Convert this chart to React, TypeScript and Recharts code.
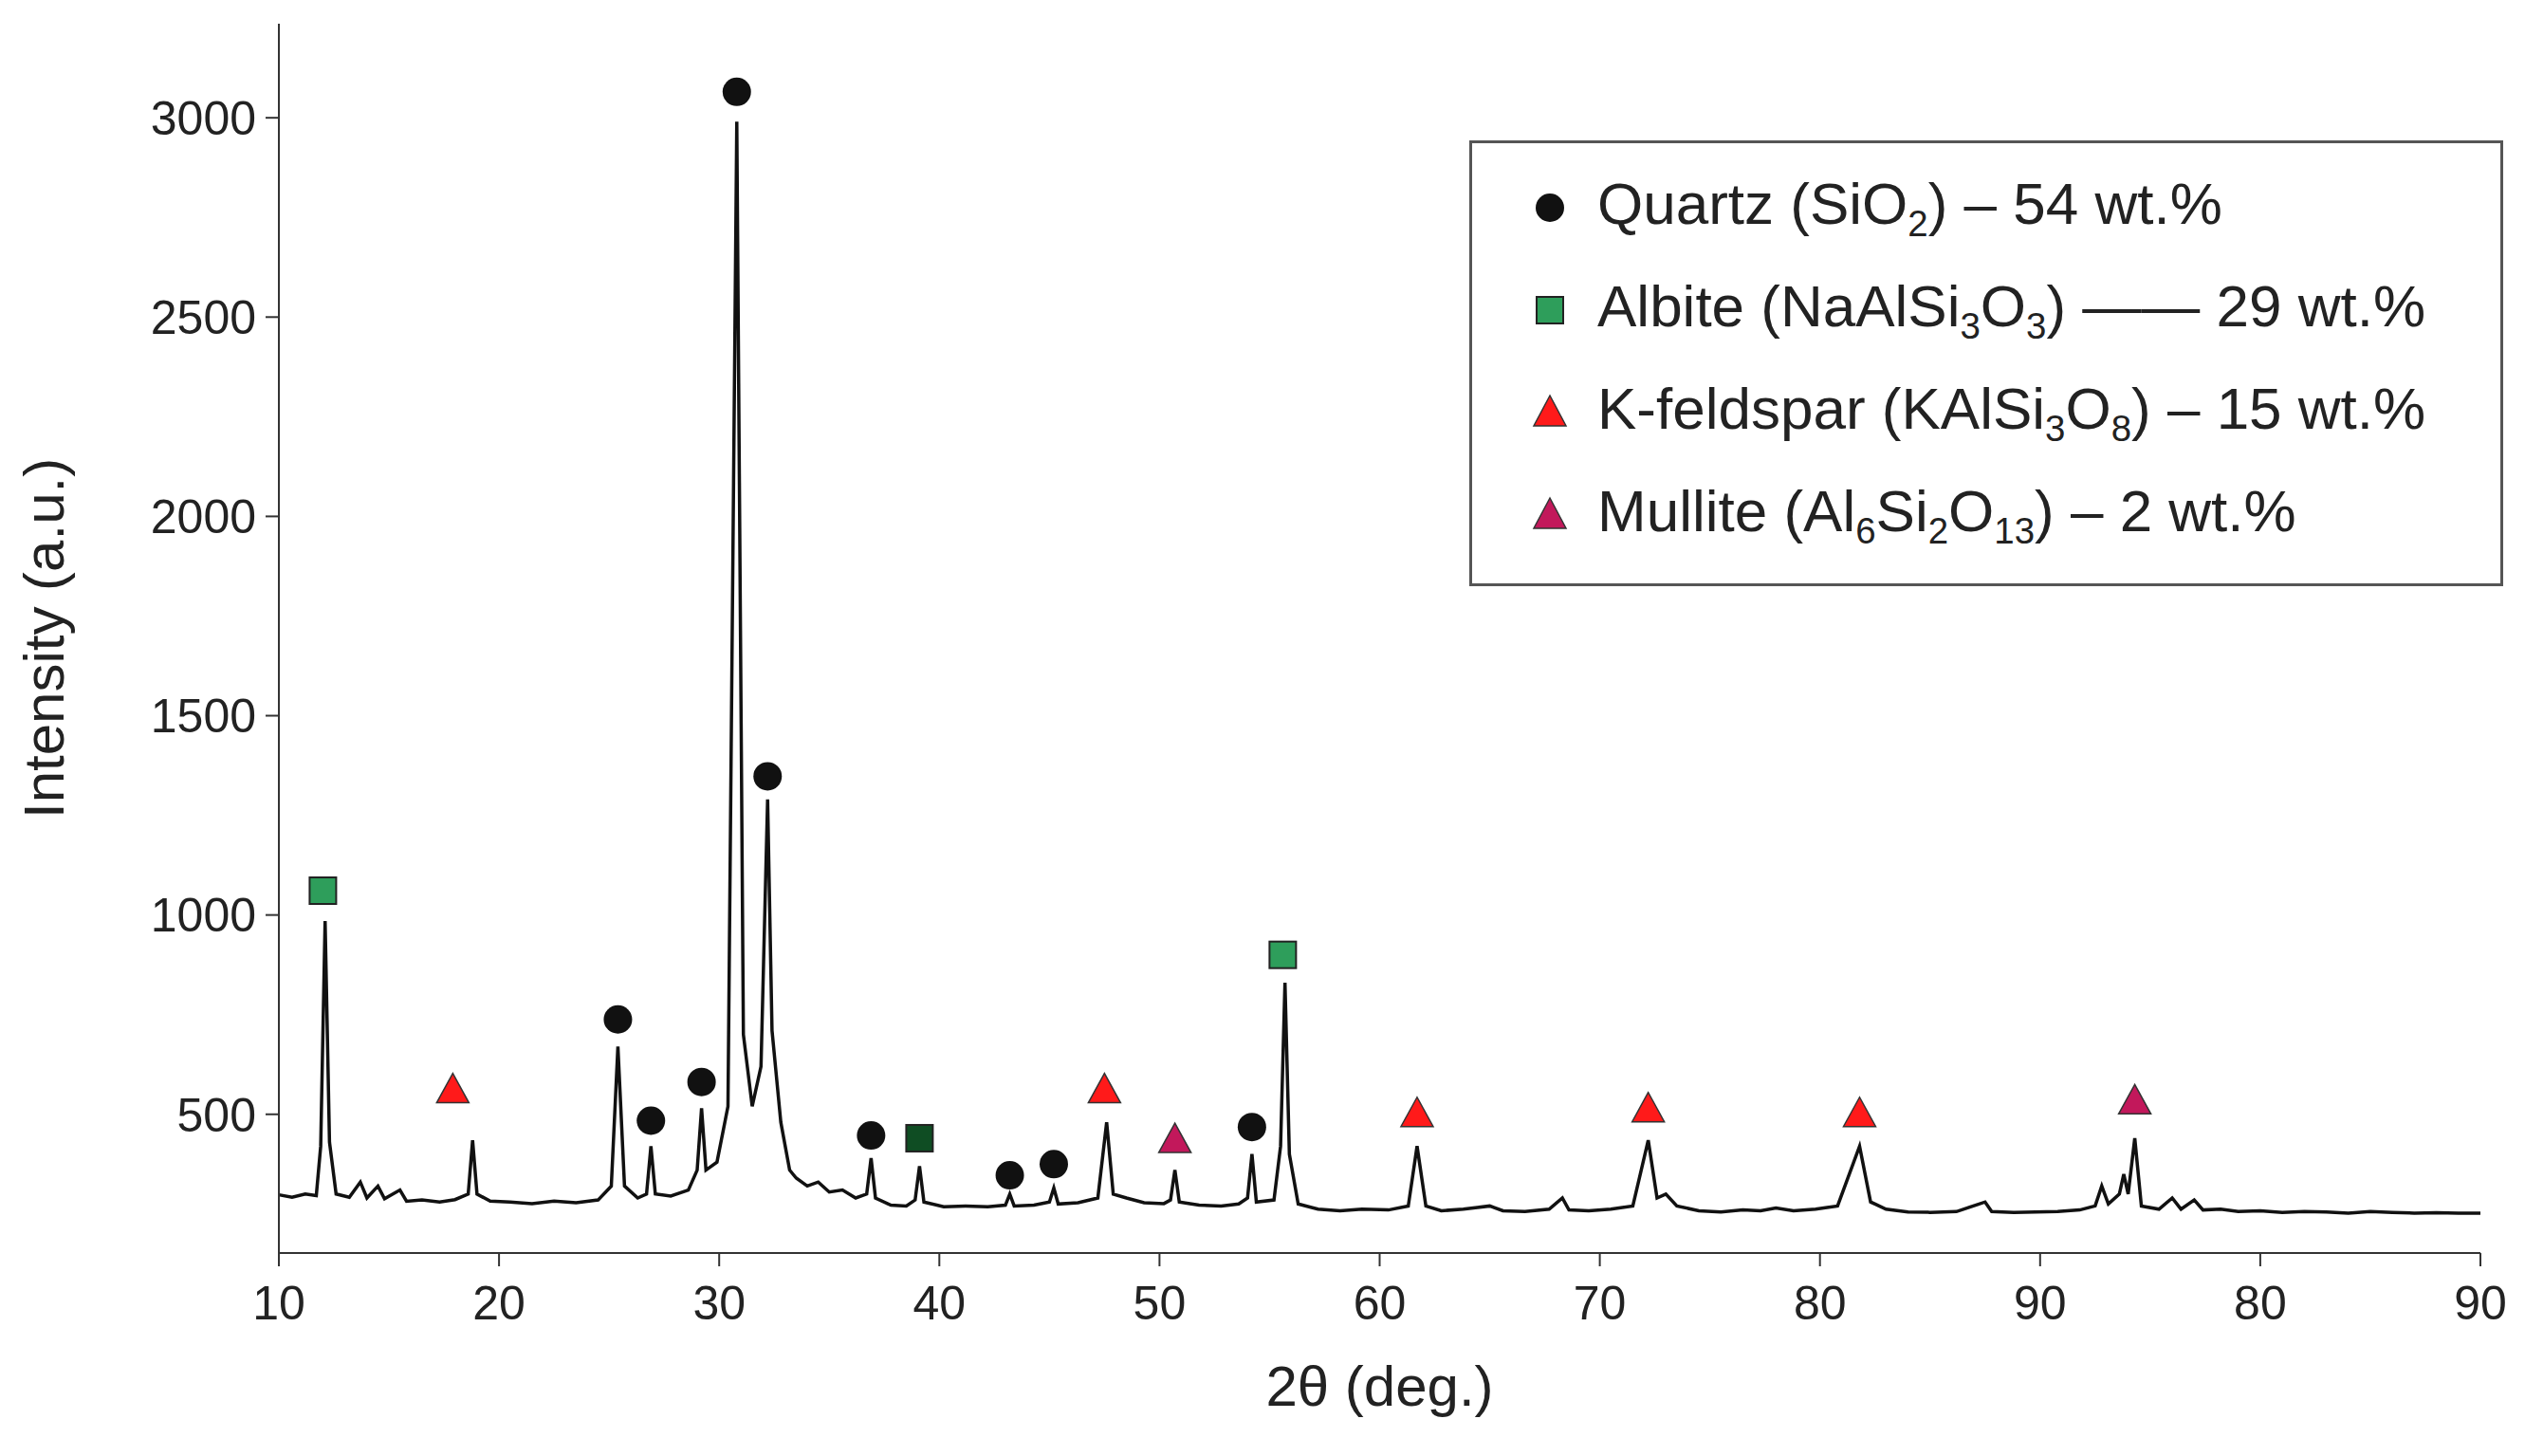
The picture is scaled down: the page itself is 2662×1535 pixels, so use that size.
import React from "react";
import { ComposedChart, Line, Scatter, XAxis, YAxis } from "recharts";

// XRD trace [2θ position, intensity]
const trace: [number, number][] = [
  [10, 298], [10.6, 292], [11.2, 300], [11.7, 296], [11.9, 420], [12.1, 985], [12.3, 430], [12.6, 300],
  [13.2, 292], [13.7, 330], [14.0, 290], [14.5, 320], [14.8, 288], [15.5, 310], [15.8, 282], [16.5, 285],
  [17.3, 280], [18.0, 286], [18.6, 300], [18.8, 435], [19.0, 300], [19.6, 282], [20.5, 280], [21.5, 276],
  [22.5, 282], [23.5, 278], [24.5, 285], [25.1, 320], [25.4, 670], [25.7, 320], [26.3, 290], [26.7, 300],
  [26.9, 420], [27.1, 300], [27.8, 295], [28.6, 310], [29.0, 360], [29.2, 515], [29.4, 360], [29.9, 380],
  [30.4, 520], [30.8, 2990], [31.1, 700], [31.5, 520], [31.9, 620], [32.2, 1290], [32.4, 710], [32.8, 480],
  [33.2, 360], [33.5, 340], [34.0, 320], [34.5, 330], [35.0, 305], [35.6, 310], [36.2, 290], [36.7, 300],
  [36.9, 390], [37.1, 290], [37.8, 272], [38.5, 270], [38.9, 285], [39.1, 370], [39.3, 280], [40.2, 268],
  [41.2, 270], [42.2, 268], [43.0, 272], [43.2, 300], [43.4, 270], [44.3, 272], [45.0, 280], [45.2, 315],
  [45.4, 275], [46.3, 278], [47.2, 290], [47.6, 480], [47.9, 300], [48.5, 290], [49.3, 278], [50.2, 276],
  [50.5, 285], [50.7, 360], [50.9, 280], [51.8, 272], [52.8, 270], [53.6, 275], [54.0, 290], [54.2, 400],
  [54.4, 280], [55.2, 285], [55.5, 420], [55.7, 830], [55.9, 400], [56.3, 275], [57.2, 262], [58.2, 258],
  [59.2, 262], [60.4, 260], [61.3, 270], [61.7, 420], [62.1, 270], [62.8, 258], [63.8, 262], [65.0, 270],
  [65.6, 258], [66.6, 256], [67.7, 262], [68.3, 290], [68.6, 260], [69.5, 258], [70.5, 262], [71.5, 270],
  [72.2, 435], [72.6, 290], [73.0, 300], [73.5, 270], [74.5, 258], [75.5, 255], [76.5, 260], [77.3, 258],
  [78.0, 265], [78.8, 258], [79.8, 262], [80.8, 270], [81.8, 420], [82.3, 280], [83.0, 262], [84.0, 255],
  [85.0, 254], [86.2, 256], [87.5, 280], [87.8, 256], [88.8, 254], [89.8, 255], [90.8, 256], [91.8, 260],
  [92.5, 270], [92.8, 320], [93.1, 275], [93.6, 300], [93.8, 350], [94.0, 300], [94.3, 440], [94.6, 270],
  [95.4, 262], [96.0, 290], [96.4, 262], [97.0, 285], [97.4, 260], [98.2, 262], [99.0, 256], [100.0, 258],
  [101.0, 254], [102.0, 256], [103.0, 255], [104.0, 252], [105.0, 256], [106.0, 254], [107.0, 252],
  [108.0, 253], [109.0, 252], [110.0, 252],
];

// phase marker positions [2θ, intensity]
const quartz: [number, number][] = [
  [30.8, 3065], [32.2, 1348], [25.4, 738], [26.9, 484], [29.2, 581], [36.9, 447], [43.2, 347], [45.2, 375], [54.2, 468],
];
const albite: [number, number][] = [[12.0, 1061], [55.6, 900]];
const albiteDark: [number, number][] = [[39.1, 440]];
const kFeldspar: [number, number][] = [[17.9, 560], [47.5, 560], [61.7, 500], [72.2, 512], [81.8, 500]];
const mullite: [number, number][] = [[50.7, 435], [94.3, 532]];

const xTicks = [10, 20, 30, 40, 50, 60, 70, 80, 90, 100, 110];
const xTickLabels = ["10", "20", "30", "40", "50", "60", "70", "80", "90", "80", "90"];
const yTicks = [500, 1000, 1500, 2000, 2500, 3000];

const toPts = (arr: [number, number][]) => arr.map(([x, y]) => ({ x, y }));

const circle = (p: any) => <circle cx={p.cx} cy={p.cy} r={15} fill="#111" />;
const square = (fill: string) => (p: any) => (
  <rect x={p.cx - 14} y={p.cy - 14} width={28} height={28} fill={fill} stroke="#222" strokeWidth={2} />
);
const tri = (fill: string) => (p: any) => (
  <polygon
    points={`${p.cx},${p.cy - 18} ${p.cx - 17},${p.cy + 13} ${p.cx + 17},${p.cy + 13}`}
    fill={fill}
    stroke="#333"
    strokeWidth={1.5}
  />
);

const font = "'Liberation Sans', Arial, sans-serif";

const Sub = ({ children }: { children: React.ReactNode }) => (
  <sub style={{ fontSize: "0.62em", verticalAlign: "-0.35em" }}>{children}</sub>
);

const legendRow = (icon: React.ReactNode, text: React.ReactNode) => (
  <div style={{ display: "flex", alignItems: "center", height: 108 }}>
    <svg width={60} height={40} style={{ marginRight: 20 }}>{icon}</svg>
    <span>{text}</span>
  </div>
);

export default function App() {
  return (
    <div style={{ position: "relative", width: 2654, height: 1527, fontFamily: font, background: "#fff" }}>
      <ComposedChart width={2654} height={1527} margin={{ top: 17, right: 47, bottom: 0, left: 0 }}>
        <XAxis
          type="number"
          dataKey="x"
          domain={[10, 110]}
          ticks={xTicks}
          tickFormatter={(v: number) => xTickLabels[xTicks.indexOf(v)] ?? ""}
          height={214}
          tick={{ fill: "#222", fontSize: 50, fontFamily: font }}
          tickSize={14}
          tickMargin={20}
          stroke="#333"
          strokeWidth={2}
          label={{ value: "2θ (deg.)", position: "insideTop", offset: 118, fill: "#222", fontSize: 60, fontFamily: font }}
        />
        <YAxis
          type="number"
          dataKey="y"
          domain={[152, 3236]}
          ticks={yTicks}
          width={286}
          tick={{ fill: "#222", fontSize: 50, fontFamily: font }}
          tickSize={14}
          tickMargin={10}
          stroke="#333"
          strokeWidth={2}
          allowDataOverflow
          label={{ value: "Intensity (a.u.)", angle: -90, position: "insideLeft", offset: 38, dy: 190, fill: "#222", fontSize: 60, fontFamily: font }}
        />
        <Line data={toPts(trace)} dataKey="y" type="linear" stroke="#111" strokeWidth={3.5} dot={false} isAnimationActive={false} />
        <Scatter data={toPts(quartz)} dataKey="y" shape={circle} isAnimationActive={false} />
        <Scatter data={toPts(albite)} dataKey="y" shape={square("#2e9e5b")} isAnimationActive={false} />
        <Scatter data={toPts(albiteDark)} dataKey="y" shape={square("#0f4d23")} isAnimationActive={false} />
        <Scatter data={toPts(kFeldspar)} dataKey="y" shape={tri("#ff1a1a")} isAnimationActive={false} />
        <Scatter data={toPts(mullite)} dataKey="y" shape={tri("#c2185b")} isAnimationActive={false} />
      </ComposedChart>
      <div
        style={{
          position: "absolute",
          left: 1541,
          top: 140,
          width: 1090,
          height: 470,
          border: "3px solid #555",
          boxSizing: "border-box",
          padding: "14px 0 0 52px",
          fontSize: 62,
          color: "#222",
        }}
      >
        {legendRow(<circle cx={30} cy={20} r={15} fill="#111" />, <>Quartz (SiO<Sub>2</Sub>) – 54 wt.%</>)}
        {legendRow(<rect x={16} y={6} width={28} height={28} fill="#2e9e5b" stroke="#222" strokeWidth={2} />, <>Albite (NaAlSi<Sub>3</Sub>O<Sub>3</Sub>) —— 29 wt.%</>)}
        {legendRow(<polygon points="30,2 13,34 47,34" fill="#ff1a1a" stroke="#333" strokeWidth={1.5} />, <>K-feldspar (KAlSi<Sub>3</Sub>O<Sub>8</Sub>) – 15 wt.%</>)}
        {legendRow(<polygon points="30,2 13,34 47,34" fill="#c2185b" stroke="#333" strokeWidth={1.5} />, <>Mullite (Al<Sub>6</Sub>Si<Sub>2</Sub>O<Sub>13</Sub>) – 2 wt.%</>)}
      </div>
    </div>
  );
}
